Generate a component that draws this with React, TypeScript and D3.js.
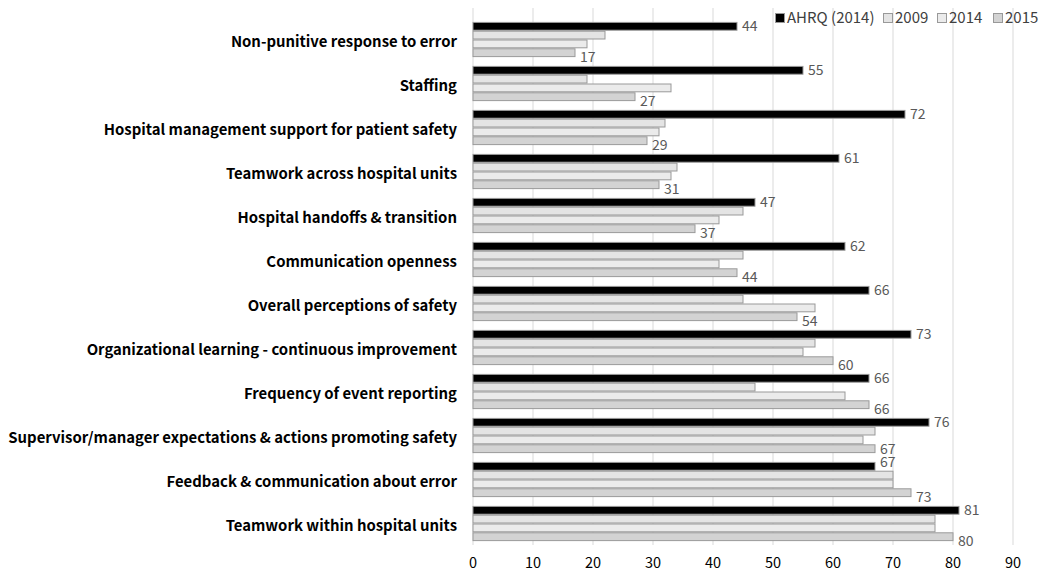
import React from "react";
import * as d3 from "d3";

const categories = [
  "Non-punitive response to error",
  "Staffing",
  "Hospital management support for patient safety",
  "Teamwork across hospital units",
  "Hospital handoffs & transition",
  "Communication openness",
  "Overall perceptions of safety",
  "Organizational learning - continuous improvement",
  "Frequency of event reporting",
  "Supervisor/manager expectations & actions promoting safety",
  "Feedback & communication about error",
  "Teamwork within hospital units",
];
const seriesNames = ["AHRQ (2014)", "2009", "2014", "2015"];
const ahrq = [44, 55, 72, 61, 47, 62, 66, 73, 66, 76, 67, 81];
const y2009 = [22, 19, 32, 34, 45, 45, 45, 57, 47, 67, 70, 77];
const y2014 = [19, 33, 31, 33, 41, 41, 57, 55, 62, 65, 70, 77];
const y2015 = [17, 27, 29, 31, 37, 44, 54, 60, 66, 67, 73, 80];
const ticks = [0, 10, 20, 30, 40, 50, 60, 70, 80, 90];

const seriesValues = [ahrq, y2009, y2014, y2015];
const fills = ["#000000", "#e4e4e4", "#ebebeb", "#d3d3d3"];

export default function App() {
  const W = 1048, H = 574;
  const x = d3.scaleLinear().domain([0, 90]).range([473, 1013]);
  const y = d3.scaleBand<string>().domain(categories).range([17.5, 545.5]).paddingInner(0.2).paddingOuter(0.1);
  const inner = d3.scaleBand<string>().domain(seriesNames).range([0, y.bandwidth()]);
  const bh = inner.bandwidth();
  const font = "'Noto Sans CJK KR', 'Noto Sans', sans-serif";
  const legendX = [775, 883, 937, 993];

  // value labels for AHRQ and 2015, with simple collision nudging
  const labels: { x: number; y: number; v: number; key: string }[] = [];
  categories.forEach((c, i) => {
    const a = ahrq[i];
    labels.push({ x: x(a) + 5, y: (y(c) as number) + (inner("AHRQ (2014)") as number) + bh / 2, v: a, key: "a" + i });
    const b = y2015[i];
    labels.push({ x: x(b) + 5, y: (y(c) as number) + (inner("2015") as number) + bh / 2 + 4, v: b, key: "b" + i });
  });
  for (let i = 1; i < labels.length - 1; i += 2) {
    const lb = labels[i], la = labels[i + 1];
    if (Math.abs(lb.x - la.x) < 16 && la.y - lb.y < 14) {
      lb.y -= 4;
      la.y -= 4;
    }
  }

  return (
    <svg width={W} height={H} style={{ position: "absolute", left: 0, top: 0, background: "#fff" }} fontFamily={font}>
      {ticks.map((t) => (
        <line key={"g" + t} x1={x(t)} x2={x(t)} y1={8} y2={545} stroke="#d9d9d9" strokeWidth={1} />
      ))}
      {categories.map((c, i) => (
        <g key={c}>
          {seriesNames.map((s, k) => {
            const v = seriesValues[k][i];
            const by = (y(c) as number) + (inner(s) as number);
            return (
              <rect key={s} x={x(0)} y={by + 0.5} width={x(v) - x(0)} height={bh - 1} fill={fills[k]} stroke="#999999" strokeWidth={1} />
            );
          })}
          <text x={457} y={(y(c) as number) + y.bandwidth() / 2 + 2} dy="0.35em" textAnchor="end" fontSize={14.9} fontWeight="bold" fill="#000">
            {c}
          </text>
        </g>
      ))}
      {labels.map((l) => (
        <text key={l.key} x={l.x} y={l.y} dy="0.35em" fontSize={14} fill="#595959">
          {l.v}
        </text>
      ))}
      {ticks.map((t) => (
        <text key={"t" + t} x={x(t)} y={563} dy="0.35em" textAnchor="middle" fontSize={14.5} fill="#000">
          {t}
        </text>
      ))}
      {seriesNames.map((s, k) => (
        <g key={"l" + s}>
          <rect x={legendX[k] + 0.5} y={13.5} width={9} height={9} fill={fills[k]} stroke="#999999" strokeWidth={1} />
          <text x={legendX[k] + 12} y={17.5} dy="0.35em" fontSize={15} fill="#404040">
            {s}
          </text>
        </g>
      ))}
    </svg>
  );
}
